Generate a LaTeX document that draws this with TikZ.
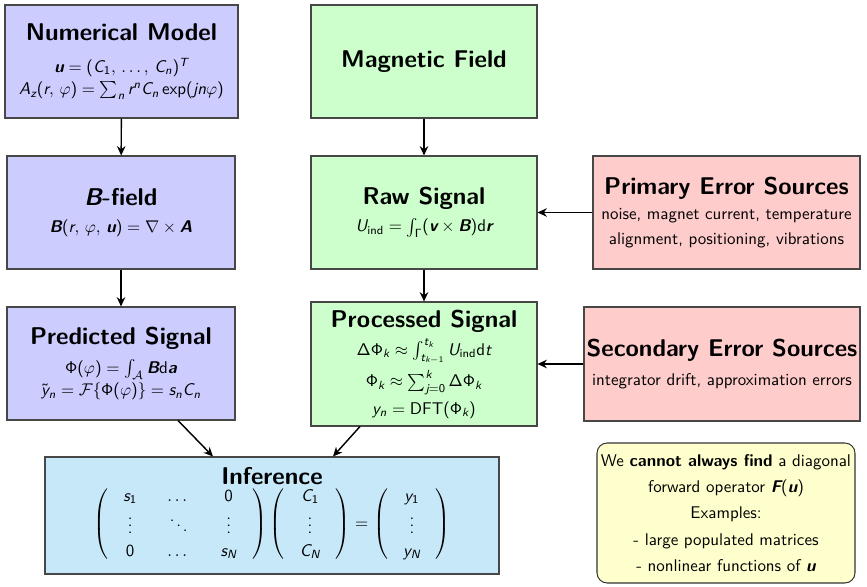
\documentclass[tikz,border=0pt]{standalone}
\usepackage{amsmath}
\usetikzlibrary{arrows.meta,shadows,calc}
\renewcommand{\familydefault}{\sfdefault}
% sans-serif math (beamer-like)
\SetSymbolFont{operators}{normal}{TU}{lmss}{m}{n}
\SetSymbolFont{operators}{bold}{TU}{lmss}{bx}{n}
\DeclareSymbolFont{sfit}{TU}{lmss}{m}{sl}
\SetSymbolFont{sfit}{bold}{TU}{lmss}{bx}{sl}
\DeclareMathAlphabet{\mathbfsl}{TU}{lmss}{bx}{sl}
\DeclareSymbolFont{sfgreek}{OT1}{cmss}{m}{n}
\DeclareMathSymbol{\Phi}{\mathalpha}{sfgreek}{"08}
\DeclareMathSymbol{\Delta}{\mathalpha}{sfgreek}{"01}
\DeclareMathSymbol{\Gamma}{\mathalpha}{sfgreek}{"00}
\DeclareMathAccent{\mytilde}{\mathalpha}{sfgreek}{"7E}
\makeatletter
\@tfor\myx:=abcdefghijklmnopqrstuvwxyzABCDEFGHIJKLMNOPQRSTUVWXYZ\do{%
  \edef\mytmp{\noexpand\DeclareMathSymbol{\myx}{\noexpand\mathalpha}{sfit}{`\myx}}\mytmp}
\makeatother
\newdimen\pxu \pxu=0.59pt
\definecolor{cblue}{RGB}{204,204,255}
\definecolor{cgreen}{RGB}{204,255,204}
\definecolor{cred}{RGB}{255,204,204}
\definecolor{ccyan}{RGB}{198,232,249}
\definecolor{cyel}{RGB}{255,255,206}
\newcommand{\ttl}{\fontsize{14.3}{17}\selectfont\bfseries}
\begin{document}
\begin{tikzpicture}[x=0.59pt,y=-0.59pt,
  box/.style={draw=black!72, line width=0.6pt, align=center, inner sep=0pt,
    drop shadow={opacity=0.35, shadow xshift=0.8pt, shadow yshift=-0.8pt}},
  arr/.style={-{Stealth[length=5.5pt,width=5pt]}, line width=0.85pt}]
\useasboundingbox (0,0) rectangle (867,587);

\node[box, fill=cblue, minimum width=233\pxu, minimum height=113\pxu] (nm) at (121.5,61.5)
  {{\ttl Numerical Model}\\[7pt]
   $\mathbfsl{u} = (C_1,\,\dots,\,C_n)^T$\\[1pt]
   $A_z(r,\,\varphi) = \sum_n r^n C_n \exp(jn\varphi)$};

\node[box, fill=cgreen, minimum width=226\pxu, minimum height=113\pxu] (mf) at (424,61.5)
  {\ttl Magnetic Field};

\node[box, fill=cblue, minimum width=228\pxu, minimum height=113\pxu] (bf) at (121,212.5)
  {{\ttl $\mathbfsl{B}$-field}\\[4pt]
   $\mathbfsl{B}(r,\,\varphi,\,\mathbfsl{u}) = \nabla\times\mathbfsl{A}$};

\node[box, fill=cgreen, minimum width=226\pxu, minimum height=113\pxu] (rs) at (424,212.5)
  {{\ttl Raw Signal}\\[4pt]
   $U_{\mathrm{ind}} = \int_\Gamma (\mathbfsl{v}\times\mathbfsl{B})\mathrm{d}\mathbfsl{r}$};

\node[box, fill=cred, minimum width=267\pxu, minimum height=113\pxu] (pe) at (726.5,212.5)
  {{\ttl Primary Error Sources}\\[3pt]
   noise, magnet current, temperature\\[3pt]
   alignment, positioning, vibrations};

\node[box, fill=cblue, minimum width=228\pxu, minimum height=113\pxu] (ps) at (121,363.5)
  {{\ttl Predicted Signal}\\[5pt]
   $\Phi(\varphi) = \int_{\mathcal{A}} \mathbfsl{B}\mathrm{d}\mathbfsl{a}$\\[1pt]
   $\mytilde{y}_n = \mathcal{F}\{\Phi(\varphi)\} = s_n C_n$};

\node[box, fill=cgreen, minimum width=226\pxu, minimum height=124\pxu] (pr) at (424,364)
  {{\ttl Processed Signal}\\[3pt]
   $\Delta\Phi_k \approx \int_{t_{k-1}}^{t_k} U_{\mathrm{ind}}\mathrm{d}t$\\[2.5pt]
   $\Phi_k \approx \sum_{j=0}^{k} \Delta\Phi_k$\\[4pt]
   $y_n = \mathrm{DFT}(\Phi_k)$};

\node[box, fill=cred, minimum width=276\pxu, minimum height=114\pxu] (se) at (722,364)
  {{\ttl Secondary Error Sources}\\[5pt]
   integrator drift, approximation errors};

\node[box, fill=ccyan, minimum width=454\pxu, minimum height=117\pxu] (inf) at (272,515.5)
  {{\ttl Inference}\\[-1pt]
   $\arraycolsep=9pt\def\arraystretch{1.13}
   \left(\begin{array}{ccc} s_1 & \dots & 0\\ \vdots & \ddots & \vdots\\ 0 & \dots & s_N\end{array}\right)
   \left(\begin{array}{c} C_1\\ \vdots\\ C_N\end{array}\right) =
   \left(\begin{array}{c} y_1\\ \vdots\\ y_N\end{array}\right)$};

\node[draw=black!80, line width=0.6pt, fill=cyel, rounded corners=6pt, align=center, inner sep=0pt,
  minimum width=258\pxu, minimum height=140\pxu] (note) at (726,513)
  {We \textbf{cannot always find} a diagonal\\[3.5pt]
   forward operator $\mathbfsl{F}(\mathbfsl{u})$\\[3.5pt]
   Examples:\\[3.5pt]
   - large populated matrices\\[3.5pt]
   - nonlinear functions of $\mathbfsl{u}$};

\draw[arr] (nm) -- (bf);
\draw[arr] (bf) -- (ps);
\draw[arr] (mf) -- (rs);
\draw[arr] (rs) -- (pr);
\draw[arr] (pe.west) -- (rs.east |- pe.west);
\draw[arr] (se.west) -- (pr.east |- se.west);
\draw[arr] ([xshift=57\pxu]ps.south) -- ([xshift=-59\pxu]inf.north);
\draw[arr] ([xshift=-64\pxu]pr.south) -- ([xshift=61\pxu]inf.north);
\end{tikzpicture}
\end{document}
